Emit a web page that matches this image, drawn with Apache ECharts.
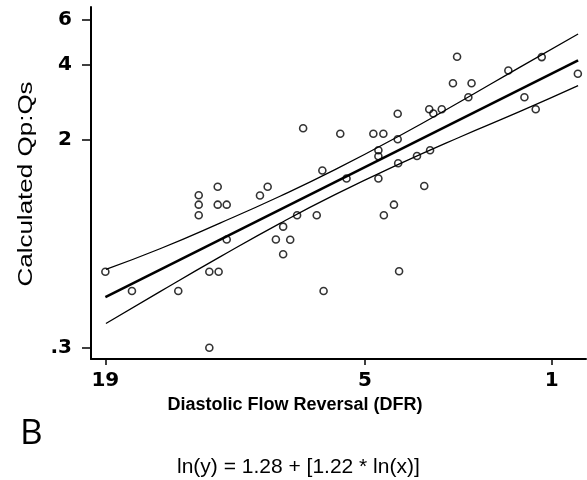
<!DOCTYPE html>
<html>
<head>
<meta charset="utf-8">
<script src="https://cdn.jsdelivr.net/npm/echarts@6/dist/echarts.min.js"></script>
<style>
html,body{margin:0;padding:0;background:#fff;}
#chart{width:587px;height:480px;}
</style>
</head>
<body>
<div id="chart"></div>
<script>
// X axis variable (regression x, plotted on log scale); tick labels show DFR
const xTickValues = [0.19, 0.505, 1.02];
const xTickLabels = ['19', '5', '1'];
const xRange = [0.18, 1.16];
// Y axis: Calculated Qp:Qs on log scale
const yTickValues = [0.3, 2, 4, 6];
const yTickLabels = ['.3', '2', '4', '6'];
const yRange = [0.2705, 6.757];

// Observations
const pointX = [0.190, 0.210, 0.250, 0.270, 0.270, 0.270, 0.281, 0.281, 0.290, 0.290,
                0.291, 0.300, 0.300, 0.340, 0.350, 0.361, 0.371, 0.371, 0.381, 0.391,
                0.400, 0.421, 0.430, 0.432, 0.460, 0.471, 0.521, 0.531, 0.531, 0.531,
                0.541, 0.542, 0.563, 0.571, 0.571, 0.572, 0.574, 0.614, 0.631, 0.645,
                0.643, 0.653, 0.674, 0.703, 0.714, 0.745, 0.754, 0.866, 0.920, 0.960,
                0.982, 1.125];
const pointY = [0.601, 0.504, 0.504, 1.208, 1.109, 1.007, 0.601, 0.300, 1.307, 1.109,
                0.601, 1.109, 0.807, 1.206, 1.307, 0.807, 0.907, 0.705, 0.805, 1.007,
                2.230, 1.007, 1.516, 0.504, 2.122, 1.409, 2.122, 1.823, 1.726, 1.409,
                2.122, 1.007, 1.109, 2.548, 2.016, 1.620, 0.603, 1.731, 1.316, 1.823,
                2.652, 2.553, 2.652, 3.364, 4.286, 2.960, 3.364, 3.782, 2.960, 2.652,
                4.274, 3.669];

// Fitted line ln(y) = 1.28 + 1.22 ln(x), end points as read
const fitX = [0.190, 1.126];
const fitY = [0.476, 4.15];

// 95% confidence band
const bandX  = [0.1904, 0.2334, 0.2925, 0.3666, 0.4510, 0.5761, 0.7221, 0.9051, 1.126];
const upperY = [0.614, 0.741, 0.937, 1.198, 1.527, 2.087, 2.841, 3.901, 5.279];
const lowerY = [0.374, 0.501, 0.688, 0.935, 1.215, 1.613, 2.059, 2.600, 3.291];

const ln = Math.log;
function pairs(xs, ys) { return xs.map((x, i) => [ln(x), ln(ys[i])]); }
function labelFor(v, vals, labs) {
  let best = 0, bd = Infinity;
  vals.forEach((t, i) => { const d = Math.abs(ln(t) - v); if (d < bd) { bd = d; best = i; } });
  return labs[best];
}

const chart = echarts.init(document.getElementById('chart'), null, {renderer: 'canvas'});
const tickFont = {color: '#000', fontFamily: 'DejaVu Sans', fontWeight: 'bold', fontSize: 20};

chart.setOption({
  animation: false,
  backgroundColor: '#fff',
  grid: {left: 91, top: 7, right: 1, bottom: 121, containLabel: false, outerBoundsMode: 'none'},
  xAxis: {
    type: 'value',
    min: ln(xRange[0]), max: ln(xRange[1]),
    name: 'Diastolic Flow Reversal (DFR)',
    nameLocation: 'middle',
    nameGap: 33,
    nameTextStyle: {color: '#000', fontFamily: 'Liberation Sans', fontWeight: 'bold', fontSize: 18, padding: [0, 87, 0, 0]},
    axisLine: {show: true, onZero: false, lineStyle: {color: '#000', width: 2}},
    axisTick: {show: true, length: 6, lineStyle: {color: '#000', width: 1.5}, customValues: xTickValues.map(ln)},
    axisLabel: {show: true, margin: 12, customValues: xTickValues.map(ln), ...tickFont,
                formatter: v => labelFor(v, xTickValues, xTickLabels)},
    splitLine: {show: false}
  },
  yAxis: {
    type: 'value',
    min: ln(yRange[0]), max: ln(yRange[1]),
    axisLine: {show: true, onZero: false, lineStyle: {color: '#000', width: 2}},
    axisTick: {show: true, length: 9, lineStyle: {color: '#000', width: 1.5}, customValues: yTickValues.map(ln)},
    axisLabel: {show: true, margin: 19, customValues: yTickValues.map(ln), ...tickFont,
                formatter: v => labelFor(v, yTickValues, yTickLabels)},
    splitLine: {show: false}
  },
  graphic: [
    {type: 'text', x: 26, y: 184, rotation: Math.PI / 2, scaleX: 1.3, scaleY: 1,
     style: {text: 'Calculated Qp:Qs', fill: '#000', font: '20px "Liberation Sans"', align: 'center', verticalAlign: 'middle'}},
    {type: 'text', left: 20, top: 417, style: {text: 'B', fill: '#000', font: '500 35px "Open Sans"'}},
    {type: 'text', left: 177, top: 457, style: {text: 'ln(y) = 1.28 + [1.22 * ln(x)]', fill: '#000', font: '21px "Liberation Sans"'}}
  ],
  series: [
    {type: 'line', data: pairs(bandX, upperY), smooth: true, showSymbol: false, symbol: 'none',
     lineStyle: {color: '#000', width: 1.3}, z: 2, silent: true},
    {type: 'line', data: pairs(bandX, lowerY), smooth: true, showSymbol: false, symbol: 'none',
     lineStyle: {color: '#000', width: 1.3}, z: 2, silent: true},
    {type: 'line', data: pairs(fitX, fitY), showSymbol: false, symbol: 'none',
     lineStyle: {color: '#000', width: 2.6}, z: 3, silent: true},
    {type: 'scatter', data: pairs(pointX, pointY), symbol: 'circle', symbolSize: 7,
     itemStyle: {color: 'rgba(255,255,255,0)', borderColor: '#000', borderWidth: 1.6}, z: 4}
  ]
});
</script>
</body>
</html>
